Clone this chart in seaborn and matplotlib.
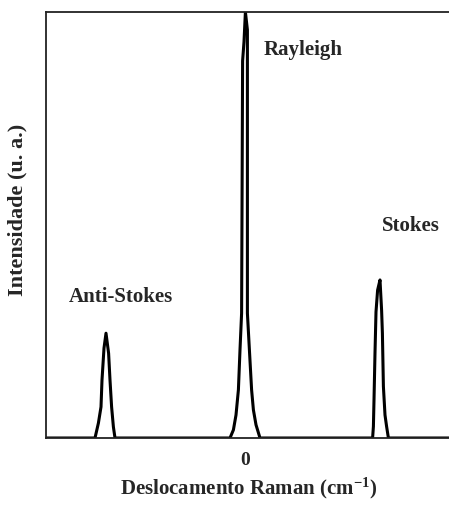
import matplotlib
matplotlib.use("Agg")
import matplotlib.pyplot as plt
import seaborn as sns
import pandas as pd

sns.set_style("white")
plt.rcParams['font.family'] = ['Liberation Serif', 'DejaVu Serif']
plt.rcParams['mathtext.fontset'] = 'custom'
plt.rcParams['mathtext.rm'] = 'Liberation Serif:bold'
plt.rcParams['mathtext.bf'] = 'Liberation Serif:bold'
plt.rcParams['mathtext.default'] = 'bf'

# Spectrum trace (Raman shift in cm^-1, intensity in a.u.)
shift = [-995, -750, -733, -720, -715, -705, -695, -682, -675, -667, -658, -650,
         -75, -58, -45, -33, -25, -17, -12, -5, 2, 12, 12, 22, 33, 42, 55, 75,
         638, 642, 645, 650, 655, 663, 675, 683, 687, 692, 700, 708, 717, 1035]
intensity = [0, 0, 0.035, 0.073, 0.136, 0.211, 0.246, 0.199, 0.136, 0.073, 0.026, 0,
             0, 0.019, 0.054, 0.113, 0.207, 0.293, 0.885, 0.93, 1.0, 0.958, 0.293, 0.207, 0.113, 0.066, 0.031, 0,
             0, 0.027, 0.089, 0.2, 0.296, 0.347, 0.371, 0.30, 0.246, 0.121, 0.054, 0.027, 0, 0]

peak_labels = ["Anti-Stokes", "Rayleigh", "Stokes"]
label_x = [-880, 95, 685]
label_y = [0.331, 0.911, 0.498]

xticks = [0]
xticklabels = ["0"]

df = pd.DataFrame({"shift": shift, "intensity": intensity})

fig = plt.figure(figsize=(4.49, 5.05), dpi=100)
ax = fig.add_axes([46/449, 1-438/505, (452-46)/449, (438-12)/505])
sns.lineplot(data=df, x="shift", y="intensity", sort=False, estimator=None,
             color="black", linewidth=2.2, ax=ax)

ax.set_xlim(-995, 1035)
ax.set_ylim(0, 1)
ax.set_xticks(xticks)
ax.set_xticklabels(xticklabels, fontsize=14, fontweight="bold")
ax.set_yticks([])
ax.tick_params(axis="x", direction="out", length=5, width=1.5, color="black", pad=5)

for side in ["left", "top", "bottom"]:
    ax.spines[side].set_visible(True)
    ax.spines[side].set_color("#222222")
    ax.spines[side].set_linewidth(1.3)
ax.spines["right"].set_visible(False)

for t, x, y in zip(peak_labels, label_x, label_y):
    ax.text(x, y, t, fontsize=15, fontweight="bold", va="center", ha="left")

ax.set_xlabel("Deslocamento Raman (cm$^{-1}$)", fontsize=15,
              fontweight="bold", labelpad=5)
ax.set_ylabel("Intensidade (u. a.)", fontsize=16, fontweight="bold")
ax.yaxis.set_label_coords(-0.045, 0.535)

fig.savefig("out.png", dpi=100)
